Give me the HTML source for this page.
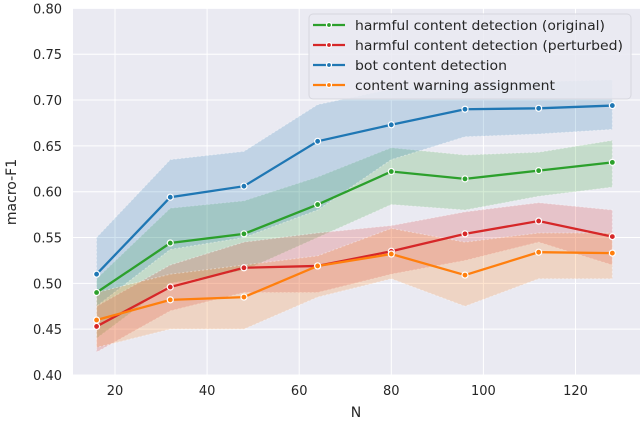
<!DOCTYPE html>
<html><head><meta charset="utf-8"><style>
body{margin:0;background:#fff;}
svg text{font-family:"DejaVu Sans","Liberation Sans",sans-serif;fill:#262626;}
</style></head><body>
<svg id="chart" width="640" height="423" viewBox="0 0 640 423" xmlns="http://www.w3.org/2000/svg">
<rect x="73" y="8.5" width="567" height="366.5" fill="#eaeaf2"/>
<g id="grid"></g><g id="bands"></g><g id="lines"></g><g id="ticks"></g>
<text transform="translate(16,192) rotate(-90)" text-anchor="middle" font-size="14">macro-F1</text>
<text x="356" y="417" text-anchor="middle" font-size="14">N</text>
<g id="legend"></g>
</svg>
<script>
const xs=[16,32,48,64,80,96,112,128];
const xTicks=[20,40,60,80,100,120];
const yTicks=[0.40,0.45,0.50,0.55,0.60,0.65,0.70,0.75,0.80];
const names=["harmful content detection (original)","harmful content detection (perturbed)","bot content detection","content warning assignment"];
const nameWidths=[250,268,152,200];
const colors=["#2ca02c","#d62728","#1f77b4","#ff7f0e"];
const green=[0.490,0.544,0.554,0.586,0.622,0.614,0.623,0.632];
const greenHi=[0.505,0.582,0.590,0.616,0.648,0.640,0.643,0.656];
const greenLo=[0.440,0.500,0.514,0.550,0.586,0.580,0.595,0.605];
const red=[0.453,0.496,0.517,0.519,0.535,0.554,0.568,0.551];
const redHi=[0.475,0.520,0.545,0.555,0.563,0.578,0.588,0.580];
const redLo=[0.425,0.470,0.490,0.490,0.510,0.525,0.545,0.520];
const blue=[0.510,0.594,0.606,0.655,0.673,0.690,0.691,0.694];
const blueHi=[0.550,0.635,0.644,0.695,0.712,0.718,0.720,0.722];
const blueLo=[0.475,0.537,0.550,0.580,0.635,0.660,0.663,0.668];
const orange=[0.460,0.482,0.485,0.519,0.532,0.509,0.534,0.533];
const orangeHi=[0.490,0.510,0.520,0.530,0.560,0.545,0.555,0.555];
const orangeLo=[0.430,0.450,0.450,0.485,0.505,0.475,0.505,0.505];
const series=[[green,greenHi,greenLo],[red,redHi,redLo],[blue,blueHi,blueLo],[orange,orangeHi,orangeLo]];
const X=v=>115+(v-20)*4.605;
const Y=v=>375-(v-0.40)*916.5;
const NS="http://www.w3.org/2000/svg";
function mk(t,a,p){const e=document.createElementNS(NS,t);for(const k in a)e.setAttribute(k,a[k]);p.appendChild(e);return e;}
const grid=document.getElementById('grid'),ticks=document.getElementById('ticks');
xTicks.forEach(v=>{
 const l=mk('line',{x1:X(v),x2:X(v),y1:8.5,y2:375,stroke:'#fff','stroke-width':1},grid);
 
 
 const t=mk('text',{x:X(v),y:395,'text-anchor':'middle','font-size':13},ticks);t.textContent=v;
 
 
});
yTicks.forEach(v=>{
 const l=mk('line',{x1:73,x2:640,y1:Y(v),y2:Y(v),stroke:'#fff','stroke-width':1},grid);
 
 
 const t=mk('text',{x:62,y:Y(v)+5,'text-anchor':'end','font-size':13},ticks);t.textContent=v.toFixed(2);
 
 
});
const bands=document.getElementById('bands'),lines=document.getElementById('lines');
series.forEach((s,i)=>{
 const [m,hi,lo]=s;
 let d=xs.map((x,j)=>(j?'L':'M')+X(x)+','+Y(hi[j])).join('')+xs.slice().reverse().map((x,j)=>'L'+X(x)+','+Y(lo[xs.length-1-j])).join('')+'Z';
 const b=mk('path',{d:d,fill:colors[i],'fill-opacity':0.2,stroke:'#fff','stroke-opacity':0.4,'stroke-dasharray':'2,2'},bands);
 
 
});
series.forEach((s,i)=>{
 const m=s[0];
 const p=mk('polyline',{points:xs.map((x,j)=>X(x)+','+Y(m[j])).join(' '),fill:'none',stroke:colors[i],'stroke-width':2.3},lines);
 
 
 xs.forEach((x,j)=>{
  const c=mk('circle',{cx:X(x),cy:Y(m[j]),r:3,fill:colors[i],stroke:'#fff','stroke-width':1.2},lines);
  
  
 });
});
const lg=document.getElementById('legend');
const box=mk('rect',{x:309,y:14,width:322,height:85,rx:4,fill:'#eaeaf2','fill-opacity':0.85,stroke:'#d6d6de'},lg);


names.forEach((n,i)=>{
 const y=25+i*20;
 const g=mk('g',{},lg);
 
 
 mk('line',{x1:313,x2:345,y1:y,y2:y,stroke:colors[i],'stroke-width':2.3},g);
 mk('circle',{cx:329,cy:y,r:2.5,fill:colors[i],stroke:'#fff','stroke-width':1.2},g);
 const t=mk('text',{x:355,y:y+5,'font-size':13.5,textLength:nameWidths[i],lengthAdjust:'spacingAndGlyphs'},g);t.textContent=n;
});
</script>
</body></html>
